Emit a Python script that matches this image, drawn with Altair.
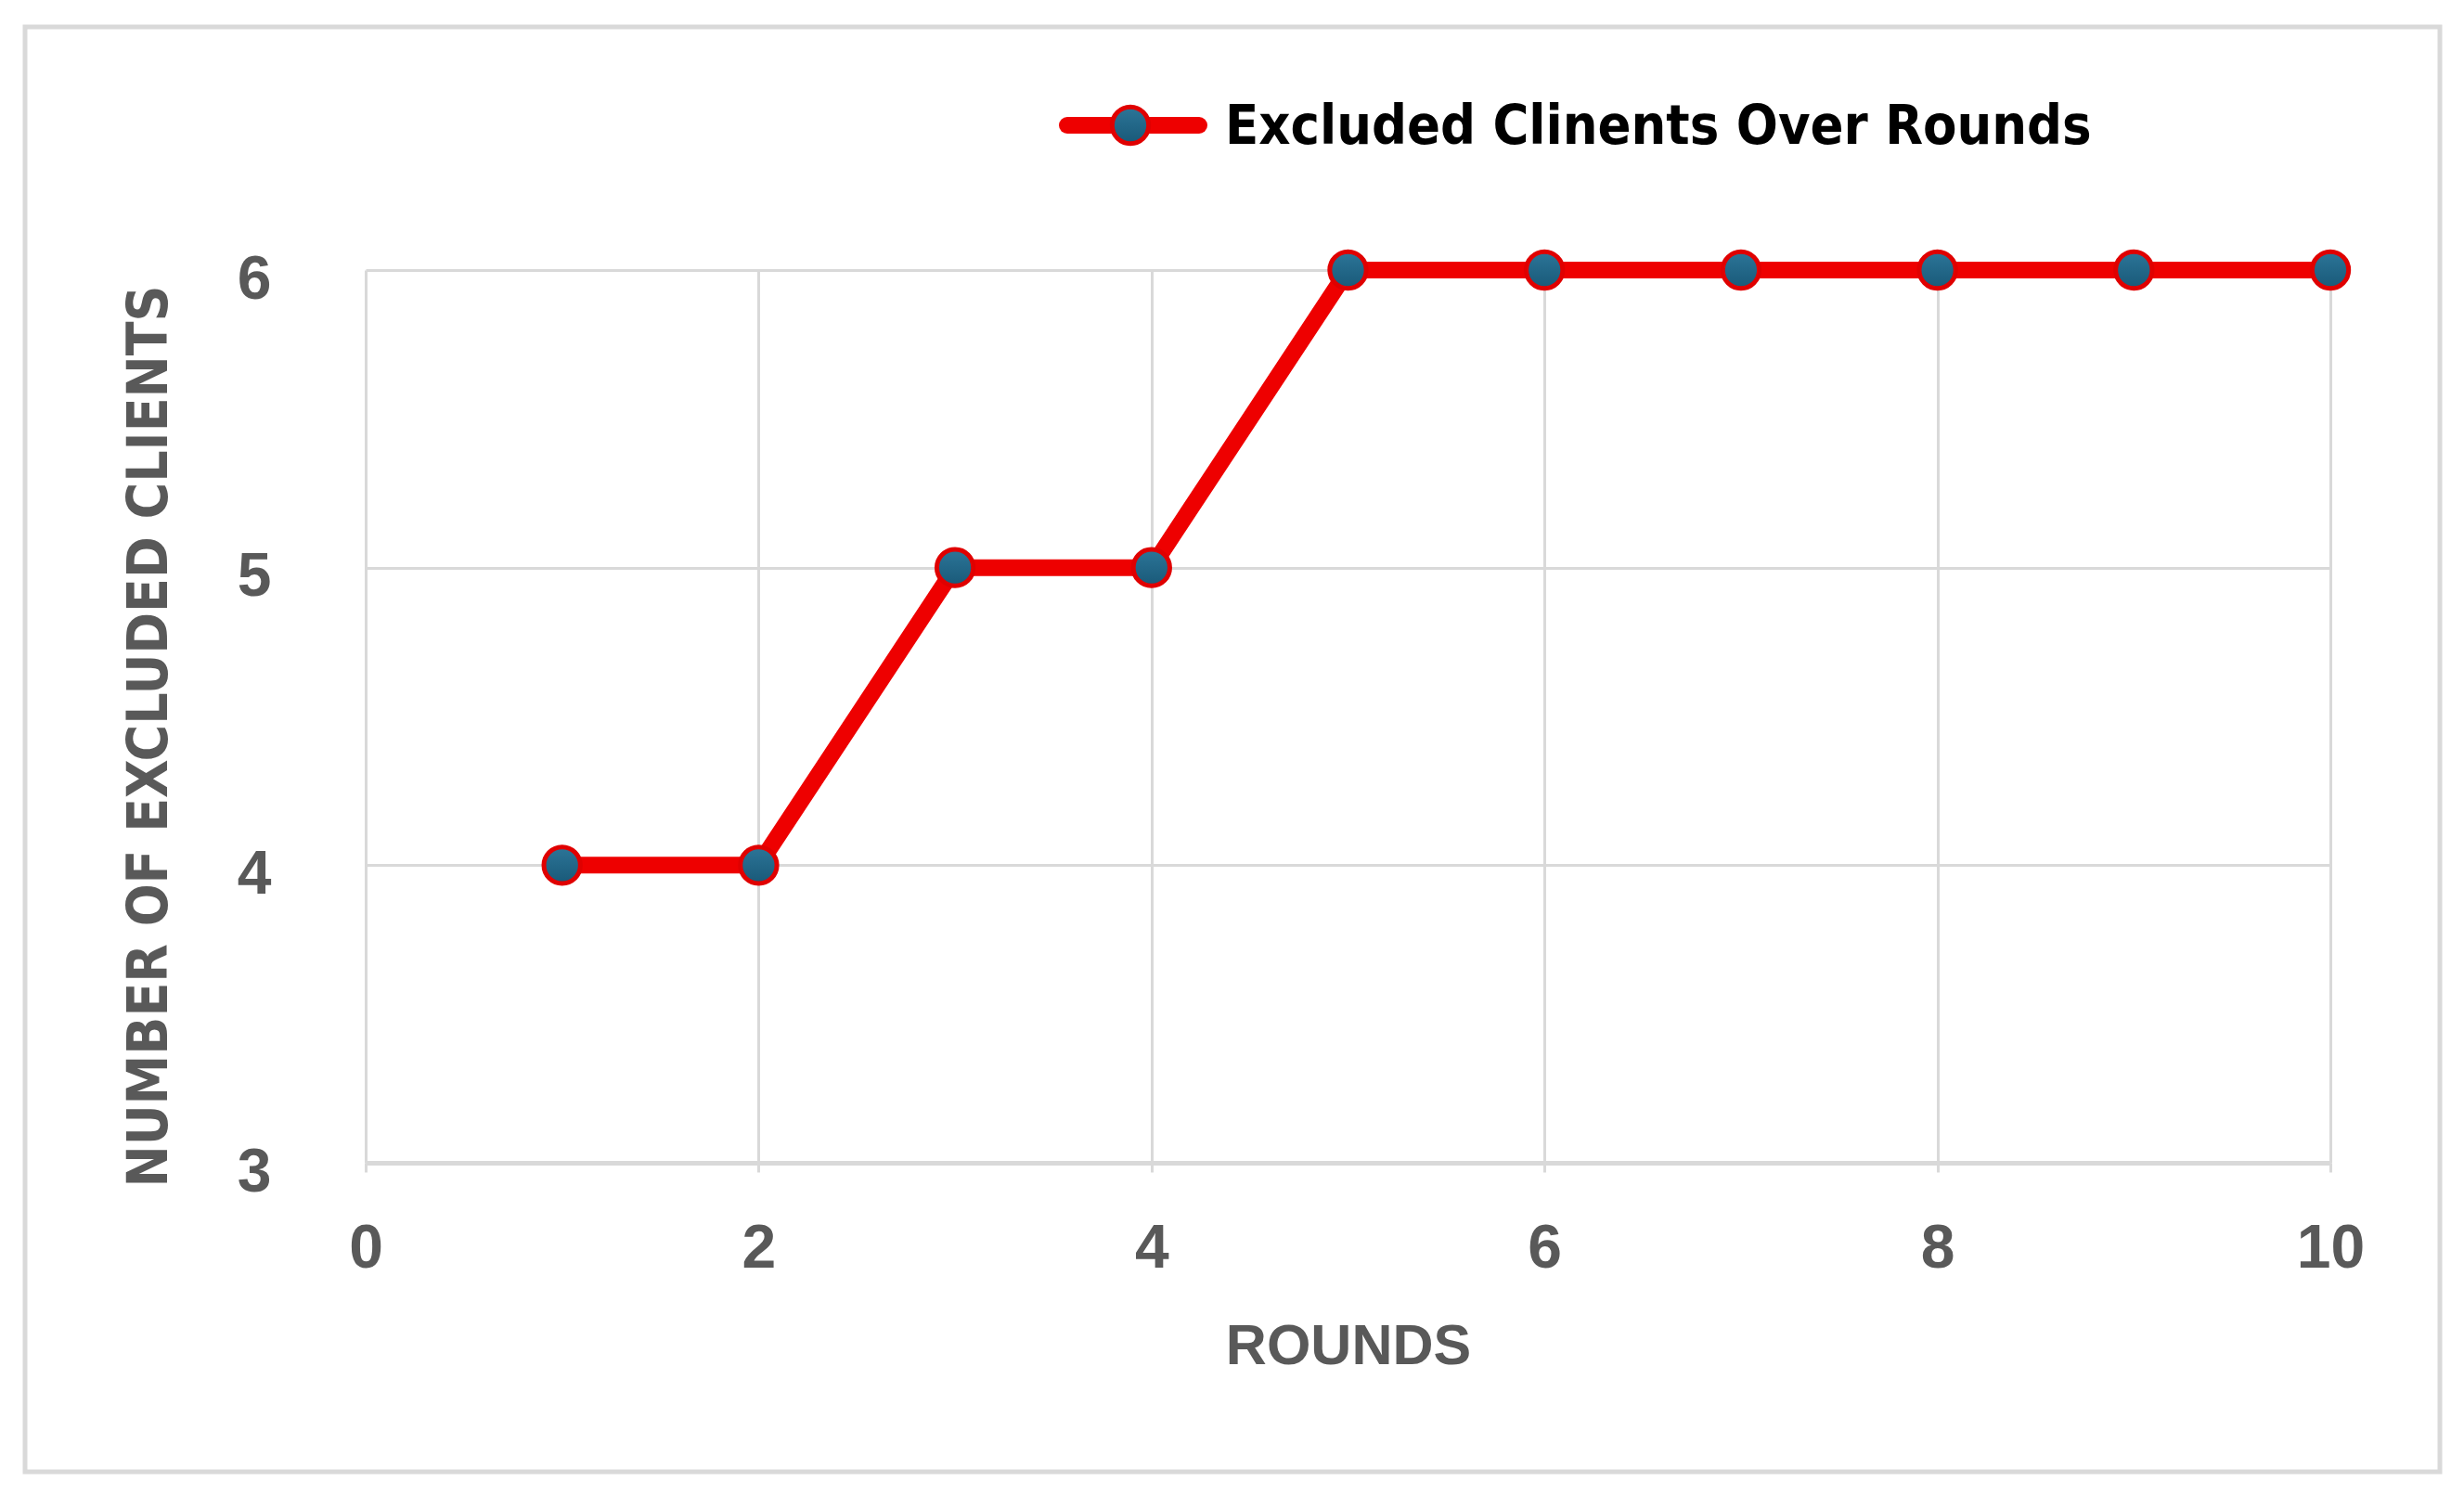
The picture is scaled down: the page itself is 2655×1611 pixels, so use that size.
import altair as alt
import pandas as pd

rounds = [1, 2, 3, 4, 5, 6, 7, 8, 9, 10]
excluded = [4, 4, 5, 5, 6, 6, 6, 6, 6, 6]
x_ticks = [0, 2, 4, 6, 8, 10]
y_ticks = [3, 4, 5, 6]
series_name = "Excluded Clinents Over Rounds"

df = pd.DataFrame({"round": rounds, "excluded": excluded})
one = pd.DataFrame({"k": [0]})

NARROW = "DejaVu Sans Condensed, Liberation Sans Narrow, sans-serif"
SANS = "Liberation Sans, Arial, sans-serif"
GRAY = "#595959"
GRID = "#D9D9D9"
RED = "#EE0000"

W, H = 2117, 962

x_enc = alt.X(
    "round:Q",
    scale=alt.Scale(domain=[0, 10], nice=False),
    axis=alt.Axis(
        values=x_ticks, title="ROUNDS", format="d",
        labelFont=SANS, labelFontSize=66, labelFontWeight="bold", labelColor=GRAY,
        labelPadding=50, labelFlush=False, tickSize=10, tickColor=GRID, tickWidth=3,
        domainColor=GRID, domainWidth=5,
        gridColor=GRID, gridWidth=3,
        titleFont=SANS, titleFontSize=61, titleFontWeight="bold", titleColor=GRAY,
        titleX=W / 2, titleY=198, titleBaseline="middle", titleAlign="center",
    ),
)
y_enc = alt.Y(
    "excluded:Q",
    scale=alt.Scale(domain=[3, 6], nice=False, zero=False),
    axis=alt.Axis(
        values=y_ticks, title="NUMBER OF EXCLUDED CLIENTS", format="d",
        labelFont=SANS, labelFontSize=66, labelFontWeight="bold", labelColor=GRAY,
        labelPadding=102, labelOffset=10, ticks=False, domain=False,
        gridColor=GRID, gridWidth=3,
        titleFont=NARROW, titleFontSize=60, titleFontWeight="bold", titleColor=GRAY,
        titleAngle=270, titleX=-233, titleY=502, titleBaseline="middle", titleAlign="center",
    ),
)

line = alt.Chart(df).mark_line(color=RED, strokeWidth=18, strokeJoin="round").encode(x=x_enc, y=y_enc)

marker_fill = alt.Gradient(
    gradient="linear",
    stops=[alt.GradientStop(color="#2C7598", offset=0), alt.GradientStop(color="#195978", offset=1)],
    x1=0, x2=0, y1=0, y2=1,
)
points = alt.Chart(df).mark_point(
    shape="circle", filled=True, fill=marker_fill, stroke="#E00000", strokeWidth=5, size=1550, opacity=1
).encode(x="round:Q", y="excluded:Q")

# legend (drawn by hand: line + marker + label)
leg_y = 135 - 291
leg_rule = alt.Chart(one).mark_rule(color=RED, strokeWidth=18, strokeCap="round").encode(
    x=alt.value(1150 - 394), x2=alt.value(1292 - 394), y=alt.value(leg_y)
)
leg_pt = alt.Chart(one).mark_point(
    shape="circle", filled=True, fill=marker_fill, stroke="#E00000", strokeWidth=5, size=1550, opacity=1
).encode(x=alt.value(1218 - 394), y=alt.value(leg_y))
leg_txt = alt.Chart(one).mark_text(
    text=series_name, font=NARROW, fontSize=59, fontWeight="bold", color="#000000",
    align="left", baseline="middle"
).encode(x=alt.value(1320 - 394), y=alt.value(leg_y + 2))

border = alt.Chart(one).mark_rect(fill=None, stroke=GRID, strokeWidth=5).encode(
    x=alt.value(27 - 394), x2=alt.value(2629 - 394), y=alt.value(29 - 291), y2=alt.value(1586 - 291)
)

chart = alt.layer(border, line, points, leg_rule, leg_pt, leg_txt).properties(
    width=W, height=H,
    autosize="none",
    padding={"left": 386, "top": 283, "right": 136, "bottom": 350},
    background="white",
).configure_view(stroke=None)

chart.save("out.html", embed_options={"renderer": "svg", "actions": False})
